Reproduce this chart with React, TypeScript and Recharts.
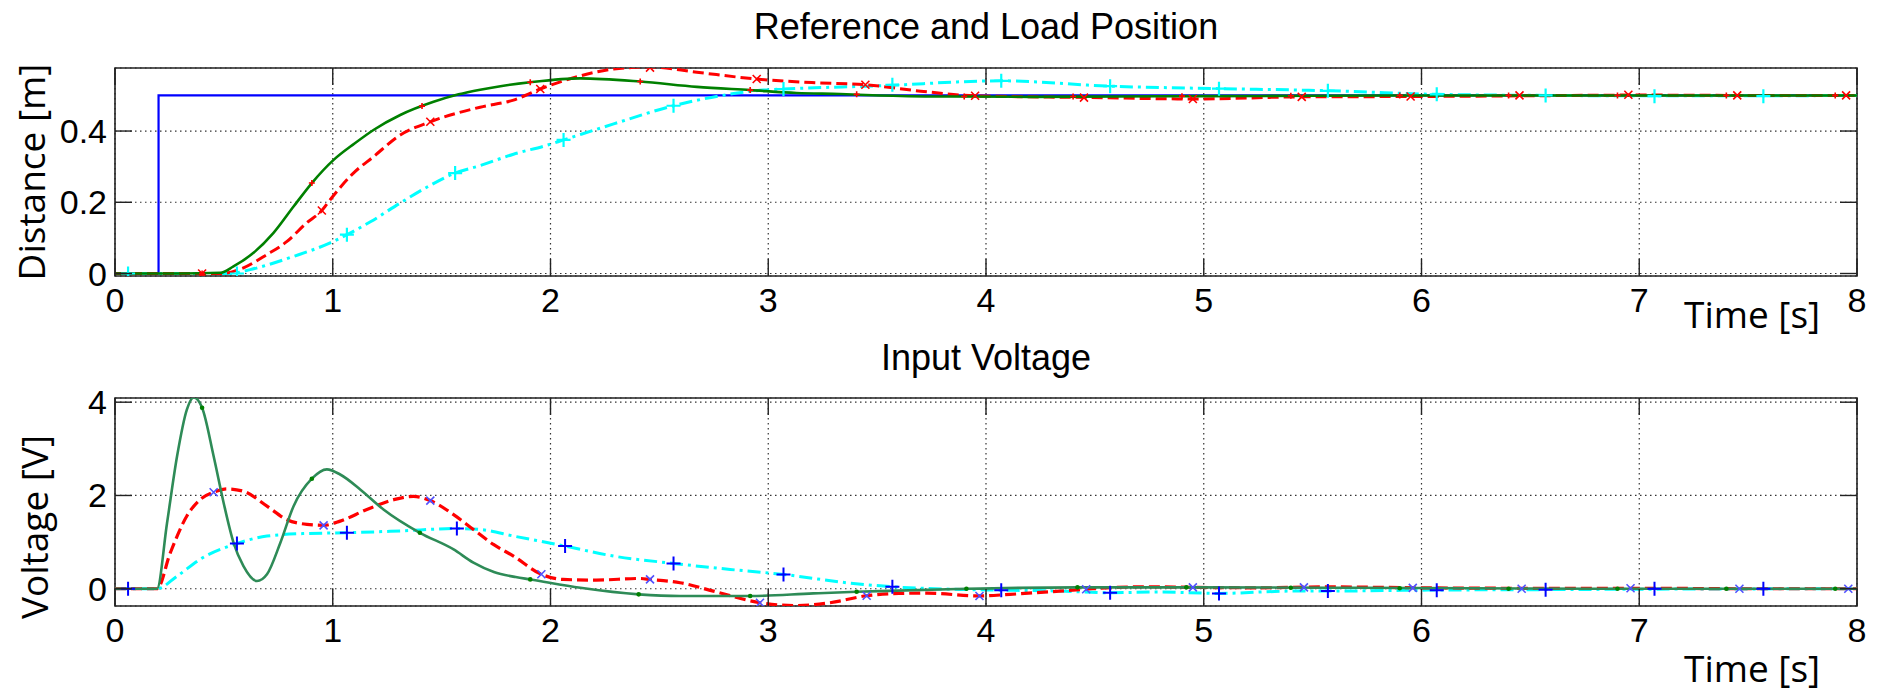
import React from 'react';
import { LineChart, Line, XAxis, YAxis, CartesianGrid, ReferenceArea } from 'recharts';

// time ticks shared by both plots
const timeTicks = [0, 1, 2, 3, 4, 5, 6, 7, 8];
const distTicks = [0, 0.2, 0.4];
const voltTicks = [0, 2, 4];
const distDomain = [-0.007, 0.577];
const voltDomain = [-0.37, 4.09];

// ---- Reference and Load Position ----
const refT = [0, 0.2, 0.2, 8];
const refV = [0, 0, 0.5, 0.5];

const greenPosT = [0, 0.3, 0.483, 0.544, 0.636, 0.728, 0.82, 0.904, 1.004, 1.1, 1.187, 1.31, 1.463, 1.578, 1.677, 1.77, 1.907, 2.137, 2.412, 2.672, 2.917, 3.13, 3.33, 3.51, 3.8, 4.2, 4.6, 5.0, 5.5, 6.0, 7.0, 8.0];
const greenPosV = [0, 0, 0.002, 0.02, 0.058, 0.114, 0.188, 0.254, 0.319, 0.365, 0.403, 0.445, 0.482, 0.503, 0.516, 0.526, 0.537, 0.548, 0.539, 0.524, 0.515, 0.507, 0.504, 0.5, 0.497, 0.496, 0.497, 0.498, 0.499, 0.5, 0.5, 0.5];

const redPosT = [0, 0.483, 0.59, 0.697, 0.79, 0.88, 0.95, 0.988, 1.095, 1.187, 1.31, 1.448, 1.677, 1.83, 1.953, 2.137, 2.29, 2.457, 2.672, 2.947, 3.2, 3.446, 3.7, 3.95, 4.48, 4.97, 5.44, 6.0, 6.5, 7.0, 7.5, 8.0];
const redPosV = [0, 0, 0.016, 0.053, 0.09, 0.142, 0.177, 0.207, 0.282, 0.328, 0.389, 0.426, 0.467, 0.487, 0.518, 0.555, 0.574, 0.58, 0.565, 0.546, 0.536, 0.53, 0.512, 0.499, 0.494, 0.49, 0.496, 0.497, 0.499, 0.501, 0.5, 0.5];

const cyanPosT = [0, 0.53, 0.621, 0.82, 0.988, 1.065, 1.175, 1.31, 1.44, 1.562, 1.677, 1.83, 1.983, 2.06, 2.29, 2.565, 2.779, 2.978, 3.07, 3.51, 4.07, 4.566, 5.077, 5.44, 5.58, 6.07, 6.57, 7.0, 7.5, 8.0];
const cyanPosV = [0, 0, 0.011, 0.048, 0.086, 0.109, 0.146, 0.198, 0.245, 0.282, 0.303, 0.335, 0.36, 0.375, 0.42, 0.471, 0.499, 0.515, 0.518, 0.527, 0.541, 0.526, 0.519, 0.515, 0.513, 0.503, 0.5, 0.499, 0.499, 0.5];

// markers on the position plot
const cyanPosMarkT = [0.06, 0.56, 1.065, 1.562, 2.06, 2.565, 3.07, 3.57, 4.07, 4.57, 5.07, 5.57, 6.07, 6.57, 7.07, 7.57];
const cyanPosMarkV = [0, 0, 0.109, 0.282, 0.375, 0.471, 0.518, 0.53, 0.541, 0.526, 0.519, 0.513, 0.503, 0.5, 0.498, 0.498];
const redPosMarkT = [0.4, 0.95, 1.448, 1.953, 2.457, 2.947, 3.446, 3.95, 4.45, 4.95, 5.45, 5.95, 6.45, 6.95, 7.45, 7.95];
const redPosMarkV = [0, 0.177, 0.426, 0.518, 0.578, 0.546, 0.53, 0.499, 0.494, 0.49, 0.496, 0.497, 0.5, 0.502, 0.5, 0.5];
const greenPosMarkT = [0.4, 0.904, 1.41, 1.907, 2.412, 2.917, 3.406, 3.9, 4.4, 4.9, 5.4, 5.9, 6.4, 6.9, 7.4, 7.9];
const greenPosMarkV = [0, 0.254, 0.47, 0.537, 0.539, 0.515, 0.503, 0.497, 0.497, 0.498, 0.499, 0.5, 0.5, 0.5, 0.5, 0.5];

// ---- Input Voltage ----
const greenVoltT = [0, 0.193, 0.239, 0.285, 0.33, 0.361, 0.4, 0.453, 0.499, 0.545, 0.59, 0.652, 0.698, 0.759, 0.82, 0.904, 0.973, 1.034, 1.126, 1.233, 1.4, 1.555, 1.646, 1.74, 1.84, 1.907, 2.137, 2.405, 2.595, 2.917, 3.207, 3.406, 3.51, 3.91, 4.42, 4.92, 5.71, 6.5, 7.0, 8.0];
const greenVoltV = [0, 0, 1.41, 2.84, 3.84, 4.1, 3.88, 2.84, 1.84, 0.98, 0.485, 0.165, 0.31, 0.98, 1.77, 2.36, 2.56, 2.45, 2.13, 1.7, 1.2, 0.843, 0.56, 0.36, 0.25, 0.2, 0.022, -0.12, -0.157, -0.157, -0.1, -0.065, -0.05, 0, 0.03, 0.03, 0.02, 0.005, 0, 0];

const redVoltT = [0, 0.193, 0.254, 0.33, 0.39, 0.453, 0.514, 0.59, 0.698, 0.79, 0.881, 0.958, 1.034, 1.157, 1.28, 1.371, 1.448, 1.555, 1.646, 1.738, 1.83, 1.958, 2.057, 2.21, 2.41, 2.457, 2.595, 2.748, 2.962, 3.13, 3.284, 3.452, 3.6, 3.73, 3.97, 4.11, 4.34, 4.49, 4.72, 4.95, 5.26, 5.56, 6.0, 6.5, 7.0, 7.5, 8.0];
const redVoltV = [0, 0, 0.77, 1.56, 1.91, 2.07, 2.14, 2.09, 1.77, 1.48, 1.38, 1.36, 1.45, 1.7, 1.91, 1.98, 1.89, 1.59, 1.27, 0.95, 0.7, 0.31, 0.2, 0.186, 0.22, 0.2, 0.129, -0.05, -0.3, -0.36, -0.3, -0.15, -0.1, -0.095, -0.155, -0.12, -0.05, 0, 0.043, 0.03, 0.02, 0.04, 0.02, 0.01, 0.01, 0, 0];

const cyanVoltT = [0, 0.193, 0.285, 0.39, 0.56, 0.698, 0.881, 1.065, 1.31, 1.57, 1.677, 1.83, 2.067, 2.29, 2.565, 2.825, 3.07, 3.36, 3.57, 3.88, 4.07, 4.34, 4.57, 4.8, 5.07, 5.41, 5.57, 6.0, 6.5, 7.0, 8.0];
const cyanVoltV = [0, 0, 0.27, 0.63, 0.97, 1.13, 1.185, 1.2, 1.24, 1.29, 1.27, 1.13, 0.914, 0.7, 0.543, 0.414, 0.307, 0.129, 0.043, -0.015, -0.03, -0.05, -0.086, -0.07, -0.1, -0.05, -0.05, -0.03, -0.02, -0.01, 0];

// markers on the voltage plot
const plusVoltMarkT = [0.06, 0.56, 1.065, 1.57, 2.067, 2.565, 3.07, 3.57, 4.07, 4.57, 5.07, 5.57, 6.07, 6.57, 7.07, 7.57];
const plusVoltMarkV = [0, 0.97, 1.2, 1.29, 0.914, 0.543, 0.307, 0.043, -0.03, -0.086, -0.1, -0.05, -0.03, -0.02, 0, 0];
const crossVoltMarkT = [0.453, 0.958, 1.448, 1.958, 2.457, 2.962, 3.452, 3.97, 4.46, 4.95, 5.46, 5.96, 6.46, 6.96, 7.46, 7.96];
const crossVoltMarkV = [2.07, 1.36, 1.89, 0.31, 0.2, -0.3, -0.15, -0.155, -0.01, 0.03, 0.03, 0.02, 0, 0.01, 0, 0];
const greenVoltMarkT = [0.4, 0.904, 1.4, 1.907, 2.405, 2.917, 3.406, 3.91, 4.42, 4.92, 5.4, 5.9, 6.4, 6.9, 7.4, 7.9];
const greenVoltMarkV = [3.88, 2.36, 1.2, 0.2, -0.12, -0.157, -0.065, 0, 0.03, 0.03, 0.02, 0.01, 0, 0, 0, 0];

const zip = (t: number[], v: number[]) => t.map((x, i) => ({ t: x, v: v[i] }));

const W = 1885;
const TICK_FONT = '"Liberation Sans", Arial, sans-serif';
const LABEL_FONT = '"Open Sans", sans-serif';
const TICK_LEN = 17;
const PLOT_W = 1742;
const PLOT_H = 208;

const XTick = (props: any) => {
  const { x, y, payload, plotH } = props;
  return (
    <g>
      <line x1={x} x2={x} y1={y} y2={y - TICK_LEN} stroke="#222" strokeWidth={1.4} />
      <line x1={x} x2={x} y1={y - plotH} y2={y - plotH + TICK_LEN} stroke="#222" strokeWidth={1.4} />
      <text x={x} y={y + 36} textAnchor="middle" fontFamily={TICK_FONT} fontSize={34} fill="#000">
        {payload.value}
      </text>
    </g>
  );
};

const YTick = (props: any) => {
  const { x, y, payload, plotW } = props;
  return (
    <g>
      <line x1={x} x2={x + TICK_LEN} y1={y} y2={y} stroke="#222" strokeWidth={1.4} />
      <line x1={x + plotW - TICK_LEN} x2={x + plotW} y1={y} y2={y} stroke="#222" strokeWidth={1.4} />
      <text x={x - 8} y={y + 12} textAnchor="end" fontFamily={TICK_FONT} fontSize={34} fill="#000">
        {payload.value}
      </text>
    </g>
  );
};

const plusDot = (color: string, s: number, w: number) => (p: any) => (
  <path key={`p${p.index}`} d={`M${p.cx - s},${p.cy}H${p.cx + s}M${p.cx},${p.cy - s}V${p.cy + s}`} stroke={color} strokeWidth={w} fill="none" />
);
const crossDot = (color: string, s: number) => (p: any) => (
  <path key={`x${p.index}`} d={`M${p.cx - s},${p.cy - s}L${p.cx + s},${p.cy + s}M${p.cx - s},${p.cy + s}L${p.cx + s},${p.cy - s}`} stroke={color} strokeWidth={1.6} fill="none" />
);
const pointDot = (color: string) => (p: any) => (
  <circle key={`d${p.index}`} cx={p.cx} cy={p.cy} r={2.3} fill={color} />
);

const markerLine = (data: any[], dot: any, key: string) => (
  <Line key={key} data={data} dataKey="v" type="linear" stroke="none" dot={dot} activeDot={false} isAnimationActive={false} />
);

const axes = (domain: number[], ticks: number[], xHeight: number) => [
  <CartesianGrid key="g" stroke="#333" strokeDasharray="1.5 3.5" strokeWidth={1.2} />,
  <XAxis key="x" dataKey="t" type="number" domain={[0, 8]} ticks={timeTicks} height={xHeight} axisLine={false} tickLine={false} tickSize={0} tickMargin={0} tick={<XTick plotH={PLOT_H} />} allowDataOverflow />,
  <YAxis key="y" type="number" domain={domain} ticks={ticks} width={115} axisLine={false} tickLine={false} tickSize={0} tickMargin={0} tick={<YTick plotW={PLOT_W} />} allowDataOverflow />,
];

export default function App() {
  return (
    <div style={{ position: 'absolute', left: 0, top: 0, width: W, height: 696, background: '#fff' }}>
      <div style={{ position: 'absolute', left: 0, top: 0 }}>
        <LineChart width={W} height={350} margin={{ top: 68, right: 28, bottom: 0, left: 0 }}>
          {axes(distDomain, distTicks, 74)}
          <Line data={zip(refT, refV)} dataKey="v" type="linear" stroke="#0000ff" strokeWidth={2.2} dot={false} activeDot={false} isAnimationActive={false} />
          <Line data={zip(cyanPosT, cyanPosV)} dataKey="v" type="monotone" stroke="#00ffff" strokeWidth={3} strokeDasharray="13 5 3 5" dot={false} activeDot={false} isAnimationActive={false} />
          <Line data={zip(redPosT, redPosV)} dataKey="v" type="monotone" stroke="#ff0000" strokeWidth={3} strokeDasharray="11 5" dot={false} activeDot={false} isAnimationActive={false} />
          <Line data={zip(greenPosT, greenPosV)} dataKey="v" type="monotone" stroke="#008000" strokeWidth={2.6} dot={false} activeDot={false} isAnimationActive={false} />
          {markerLine(zip(cyanPosMarkT, cyanPosMarkV), plusDot('#00ffff', 7, 2.2), 'm1')}
          {markerLine(zip(redPosMarkT, redPosMarkV), crossDot('#ff0000', 4), 'm2')}
          {markerLine(zip(greenPosMarkT, greenPosMarkV), plusDot('#ff0000', 3, 1.6), 'm3')}
          <ReferenceArea x1={0} x2={8} y1={distDomain[0]} y2={distDomain[1]} fill="none" stroke="#222" strokeWidth={1.6} ifOverflow="visible" />
        </LineChart>
      </div>
      <div style={{ position: 'absolute', left: 0, top: 350 }}>
        <LineChart width={W} height={346} margin={{ top: 48, right: 28, bottom: 0, left: 0 }}>
          {axes(voltDomain, voltTicks, 90)}
          <Line data={zip(cyanVoltT, cyanVoltV)} dataKey="v" type="monotone" stroke="#00ffff" strokeWidth={3} strokeDasharray="13 5 3 5" dot={false} activeDot={false} isAnimationActive={false} />
          <Line data={zip(redVoltT, redVoltV)} dataKey="v" type="monotone" stroke="#ff0000" strokeWidth={3.2} strokeDasharray="11 5" dot={false} activeDot={false} isAnimationActive={false} />
          <Line data={zip(greenVoltT, greenVoltV)} dataKey="v" type="monotone" stroke="#2e8b57" strokeWidth={2.6} dot={false} activeDot={false} isAnimationActive={false} />
          {markerLine(zip(plusVoltMarkT, plusVoltMarkV), plusDot('#0000ff', 7, 2), 'n1')}
          {markerLine(zip(crossVoltMarkT, crossVoltMarkV), crossDot('#5050ff', 4), 'n2')}
          {markerLine(zip(greenVoltMarkT, greenVoltMarkV), pointDot('#008000'), 'n3')}
          <ReferenceArea x1={0} x2={8} y1={voltDomain[0]} y2={voltDomain[1]} fill="none" stroke="#222" strokeWidth={1.6} ifOverflow="visible" />
        </LineChart>
      </div>
      <svg width={W} height={696} style={{ position: 'absolute', left: 0, top: 0, pointerEvents: 'none' }}>
        <text x={986} y={39} textAnchor="middle" fontFamily={TICK_FONT} fontSize={36}>Reference and Load Position</text>
        <text x={986} y={370} textAnchor="middle" fontFamily={TICK_FONT} fontSize={36}>Input Voltage</text>
        <text x={1684} y={328} fontFamily={LABEL_FONT} fontSize={37}>Time [s]</text>
        <text x={1684} y={682} fontFamily={LABEL_FONT} fontSize={37}>Time [s]</text>
        <text x={45} y={172} transform="rotate(-90 45 172)" textAnchor="middle" fontFamily={LABEL_FONT} fontSize={37}>Distance [m]</text>
        <text x={48} y={527} transform="rotate(-90 48 527)" textAnchor="middle" fontFamily={LABEL_FONT} fontSize={37}>Voltage [V]</text>
      </svg>
    </div>
  );
}
